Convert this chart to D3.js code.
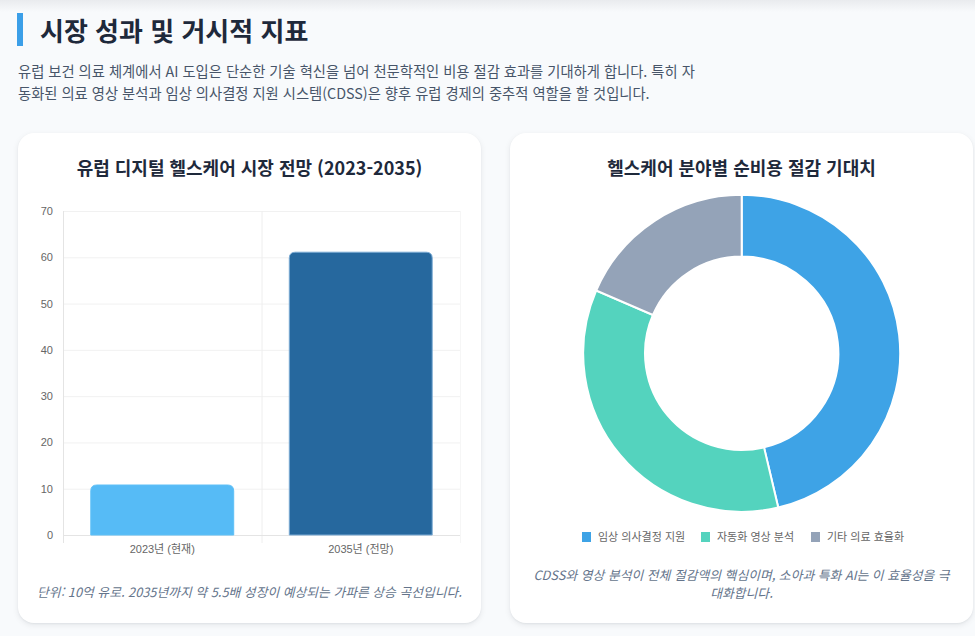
<!DOCTYPE html>
<html lang="ko">
<head>
<meta charset="utf-8">
<script src="https://cdn.jsdelivr.net/npm/d3@7"></script>
<style>
  html, body { margin: 0; padding: 0; }
  body {
    width: 975px; height: 636px; overflow: hidden;
    background: #f8fafc;
    font-family: "Noto Sans CJK KR", "Noto Sans", sans-serif;
    position: relative;
  }
  .topshade { position: absolute; left: 0; top: 0; width: 975px; height: 12px;
    background: linear-gradient(#e9ebee, rgba(248,250,252,0)); }
  h2 { position: absolute; left: 17px; top: 13px; margin: 0; height: 33px;
    border-left: 6px solid #3b9fe8; padding-left: 17px;
    font-size: 26px; line-height: 33px; font-weight: 700; color: #1e293b; }
  .desc { position: absolute; left: 18px; top: 60px; margin: 0;
    font-size: 14.3px; line-height: 22px; color: #475569; white-space: nowrap; }
  .card { position: absolute; top: 133px; height: 490px; background: #fff;
    border-radius: 16px; box-shadow: 0 2px 6px rgba(15,23,42,0.08), 0 1px 2px rgba(15,23,42,0.05); }
  #c1 { left: 18px; width: 463px; }
  #c2 { left: 510px; width: 463px; }
  .card h3 { position: absolute; left: 0; width: 100%; top: 21px; margin: 0; text-align: center;
    font-size: 18px; font-weight: 700; color: #1e293b; line-height: 26px; }
  .card svg { position: absolute; left: 0; top: 0; }
  .cap { position: absolute; left: 0; width: 100%; margin: 0; text-align: center;
    font-style: italic; font-size: 12.8px; line-height: 18px; color: #64748b; }
</style>
</head>
<body>
<div class="topshade"></div>
<h2>시장 성과 및 거시적 지표</h2>
<p class="desc">유럽 보건 의료 체계에서 AI 도입은 단순한 기술 혁신을 넘어 천문학적인 비용 절감 효과를 기대하게 합니다. 특히 자<br>동화된 의료 영상 분석과 임상 의사결정 지원 시스템(CDSS)은 향후 유럽 경제의 중추적 역할을 할 것입니다.</p>

<div class="card" id="c1">
  <h3>유럽 디지털 헬스케어 시장 전망 (2023-2035)</h3>
  <svg id="bar" width="463" height="490"></svg>
  <p class="cap" style="top:450px">단위: 10억 유로. 2035년까지 약 5.5배 성장이 예상되는 가파른 상승 곡선입니다.</p>
</div>
<div class="card" id="c2">
  <h3>헬스케어 분야별 순비용 절감 기대치</h3>
  <svg id="pie" width="463" height="490"></svg>
  <p class="cap" style="top:433px;left:20px;width:423px">CDSS와 영상 분석이 전체 절감액의 핵심이며, 소아과 특화 AI는 이 효율성을 극대화합니다.</p>
</div>

<script>
// ---- data ----
const barCategories = ["2023년 (현재)", "2035년 (전망)"];
const barValues = [10.8, 61.1];
const barColors = ["#56bbf6", "#26689e"];
const barBorders = ["#5fc0f7", "#7aaad4"];
const yTicks = [0, 10, 20, 30, 40, 50, 60, 70];

const pieLabels = ["임상 의사결정 지원", "자동화 영상 분석", "기타 의료 효율화"];
const pieValues = [2.5, 1.9, 1.0];
const pieColors = ["#3ea3e6", "#54d3be", "#94a3b8"];

const tickFont = '"Liberation Sans", "Noto Sans CJK KR", sans-serif';

// ---- bar chart ----
(function () {
  const svg = d3.select("#bar");
  // card offset: left 18, top 133
  const m = { left: 63 - 18, right: 460 - 18, top: 211 - 133, bottom: 535 - 133 };
  const x = d3.scaleBand().domain(barCategories).range([m.left, m.right]).paddingInner(0).paddingOuter(0);
  const y = d3.scaleLinear().domain([0, 70]).range([m.bottom, m.top]);

  const g = svg.append("g");
  // horizontal grid
  g.selectAll("line.hg").data(yTicks.filter(d => d > 0)).join("line")
    .attr("x1", m.left).attr("x2", m.right)
    .attr("y1", d => y(d) + 0.5).attr("y2", d => y(d) + 0.5)
    .attr("stroke", "#f1f1f1").attr("stroke-width", 1);
  // vertical grid at category boundaries (with ticks extending below)
  const bounds = [barCategories[0]].map(c => x(c) + x.bandwidth());
  g.selectAll("line.vg").data(bounds).join("line")
    .attr("x1", d => d + 0.5).attr("x2", d => d + 0.5)
    .attr("y1", m.top).attr("y2", m.bottom + 8)
    .attr("stroke", "#eeeeee");
  g.append("line").attr("x1", m.right + 0.5).attr("x2", m.right + 0.5)
    .attr("y1", m.top).attr("y2", m.bottom + 8).attr("stroke", "#f6f6f6");

  // y axis
  const ya = d3.axisLeft(y).tickValues(yTicks).tickSize(0).tickPadding(10);
  const yg = svg.append("g").attr("transform", `translate(${m.left},0)`).call(ya);
  yg.select(".domain").remove();
  yg.selectAll("text").attr("font-family", tickFont).attr("font-size", 11).attr("fill", "#666");
  g.append("line").attr("x1", m.left + 0.5).attr("x2", m.left + 0.5)
    .attr("y1", m.top).attr("y2", m.bottom + 8).attr("stroke", "#e4e4e4");

  // x axis
  const xa = d3.axisBottom(x).tickSize(0).tickPadding(10);
  const xg = svg.append("g").attr("transform", `translate(0,${m.bottom})`).call(xa);
  xg.select(".domain").remove();
  xg.selectAll("text").attr("font-family", tickFont).attr("font-size", 11).attr("fill", "#666");
  g.append("line").attr("x1", m.left).attr("x2", m.right)
    .attr("y1", m.bottom + 0.5).attr("y2", m.bottom + 0.5).attr("stroke", "#e4e4e4");

  // bars with rounded top corners
  const bw = x.bandwidth() * 0.72;
  const r = 6;
  function barPath(x0, y0, w, h) {
    const rr = Math.min(r, h, w / 2);
    return `M${x0},${y0 + h} V${y0 + rr} Q${x0},${y0} ${x0 + rr},${y0} H${x0 + w - rr} Q${x0 + w},${y0} ${x0 + w},${y0 + rr} V${y0 + h} Z`;
  }
  svg.append("g").selectAll("path").data(barValues).join("path")
    .attr("d", (d, i) => {
      const cx = x(barCategories[i]) + x.bandwidth() / 2;
      return barPath(cx - bw / 2, y(d), bw, y(0) - y(d));
    })
    .attr("fill", (d, i) => barColors[i])
    .attr("stroke", (d, i) => barBorders[i]).attr("stroke-width", 1);
})();

// ---- doughnut ----
(function () {
  const svg = d3.select("#pie");
  const cx = 741.7 - 510, cy = 353.3 - 133;
  const R = 158.5, r = R * 0.61;
  const pie = d3.pie().sort(null).value(d => d);
  const arc = d3.arc().innerRadius(r).outerRadius(R);
  const g = svg.append("g").attr("transform", `translate(${cx},${cy})`);
  g.selectAll("path").data(pie(pieValues)).join("path")
    .attr("d", arc)
    .attr("fill", (d, i) => pieColors[i])
    .attr("stroke", "#fff").attr("stroke-width", 2);

  // legend
  const itemX = [582 - 510, 701 - 510, 811 - 510];
  const ly = 537 - 133;
  const lg = svg.append("g");
  const items = lg.selectAll("g").data(pieLabels).join("g")
    .attr("transform", (d, i) => `translate(${itemX[i]},${ly})`);
  items.append("rect").attr("x", 0).attr("y", -5).attr("width", 9).attr("height", 10)
    .attr("fill", (d, i) => pieColors[i]);
  items.append("text").attr("x", 16).attr("y", 0).attr("dy", "0.35em")
    .attr("font-family", '"Noto Sans CJK KR", sans-serif').attr("font-size", 11)
    .attr("fill", "#666").text(d => d);
})();
</script>
</body>
</html>
